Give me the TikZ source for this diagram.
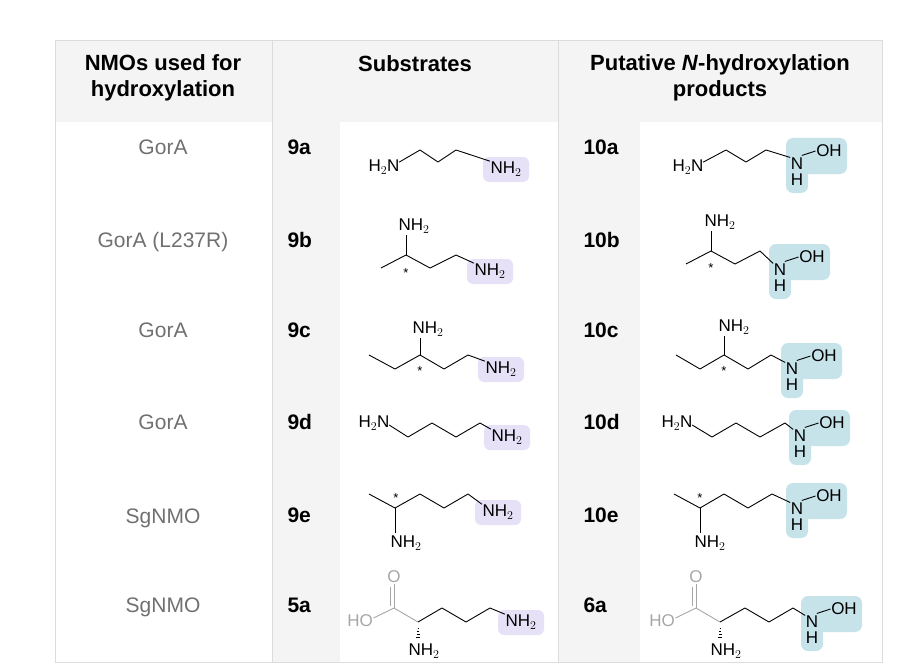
\documentclass[tikz,border=0pt]{standalone}
\usepackage{fontspec}
\setmainfont{Liberation Sans}
\definecolor{headbg}{HTML}{F4F4F4}
\definecolor{rule}{HTML}{DCDCDC}
\definecolor{nmogray}{HTML}{707070}
\definecolor{acidgray}{HTML}{A6A6A6}
\definecolor{amlilac}{HTML}{E6E1F7}
\definecolor{hoxblue}{HTML}{C6E3EA}
% purple highlighted NH2 end group
\newcommand{\amine}[3]{%
  \fill[amlilac,rounded corners=6pt] (#1-23,#2-12) rectangle (#1+23,#2+13);
  \node[atom] (#3) at (#1,#2) {NH$_2$};}
% blue highlighted N(H)-OH end group
\newcommand{\hydroxam}[3]{%
  \fill[hoxblue,rounded corners=7pt] (#1-11,#2-26) rectangle (#1+50,#2+10);
  \fill[hoxblue,rounded corners=7pt] (#1-11,#2-12) rectangle (#1+11,#2+29);
  \node[atom] (#3-n) at (#1,#2) {N};
  \node[atom] (#3-oh) at (#1+32,#2-13) {OH};
  \node[atom] (#3-h) at (#1,#2+16) {H};
  \draw[bond] (#3-n.north east) ++(-2,-2) -- (#3-oh.west);}
\begin{document}
\begin{tikzpicture}
[x=1pt,y=-1pt,
head/.style={font=\fontsize{22}{26}\selectfont\bfseries, align=center},
cmpd/.style={font=\fontsize{21}{24}\selectfont\bfseries, anchor=west},
nmo/.style={font=\fontsize{21}{24}\selectfont, text=nmogray},
atom/.style={font=\fontsize{17}{19}\selectfont, inner sep=0.5pt},
bond/.style={line width=0.9pt, line join=round},
stereo/.style={font=\fontsize{13}{13}\selectfont, inner sep=0}
]
\useasboundingbox (0,0) rectangle (902,666);
%Table
\fill[headbg] (55,40) rectangle (882,122);
\fill[headbg] (272,122) rectangle (340,662);
\fill[headbg] (558,122) rectangle (640,662);
\draw[rule] (55,40) rectangle (882,662);
\draw[rule] (272,40) -- (272,662);
\draw[rule] (558,40) -- (558,662);

%Headers
\node[head] (hnmo)  at (163,78) {NMOs used for\\hydroxylation};
\node[head] (hsub)  at (415,64) {Substrates};
\node[head] (hprod) at (720,78) {Putative \textit{N}-hydroxylation\\products};

%NMOs
\node[nmo] (e1) at (163,147) {GorA};
\node[nmo] (e2) at (163,242) {GorA (L237R)};
\node[nmo] (e3) at (163,330) {GorA};
\node[nmo] (e4) at (163,422) {GorA};
\node[nmo] (e5) at (163,518) {SgNMO};
\node[nmo] (e6) at (163,607) {SgNMO};

%Compound numbers
\foreach \s/\p/\y in {9a/10a/147, 9b/10b/240, 9c/10c/330, 9d/10d/422, 9e/10e/515, 5a/6a/605}{
  \node[cmpd] (s\s) at (284,\y) {\s};
  \node[cmpd] (p\p) at (580,\y) {\p};
}

%9a
\node[atom] (a9H) at (384,167) {H$_2$N};
\amine{506}{169}{a9N}
\draw[bond] (a9H.north east) ++(-1,3) -- (420,150) -- (438,162) -- (456,150) -- (a9N.north west);
%10a
\node[atom] (a10H) at (688,167) {H$_2$N};
\hydroxam{797}{164}{a10}
\draw[bond] (a10H.north east) ++(-1,3) -- (726,150) -- (746,162) -- (766,150) -- (a10-n.north west);

%9b
\amine{490}{271}{b9N}
\node[atom] (b9T) at (414,226) {NH$_2$};
\node[stereo] (b9s) at (406,273) {*};
\draw[bond] (381,268) -- (406,255) -- (430,268) -- (456,255) -- (b9N.north west);
\draw[bond] (406,255) -- (406,235);
%10b
\node[atom] (b10T) at (720,222) {NH$_2$};
\node[stereo] (b10s) at (711,268) {*};
\hydroxam{780}{270}{b10}
\draw[bond] (686,264) -- (711,251) -- (735,264) -- (760,251) -- (b10-n.north west);
\draw[bond] (711,251) -- (711,231);

%9c
\amine{501}{369}{c9N}
\node[atom] (c9T) at (428,329) {NH$_2$};
\node[stereo] (c9s) at (420,371) {*};
\draw[bond] (369,355) -- (395,369) -- (420,355) -- (444,369) -- (468,355) -- (c9N.north west);
\draw[bond] (420,355) -- (420,338);
%10c
\node[atom] (c10T) at (734,327) {NH$_2$};
\node[stereo] (c10s) at (724,371) {*};
\hydroxam{792}{369}{c10}
\draw[bond] (676,355) -- (700,369) -- (724,355) -- (748,369) -- (771,355) -- (c10-n.north west);
\draw[bond] (724,355) -- (724,336);

%9d
\node[atom] (d9H) at (374,423) {H$_2$N};
\amine{507}{437}{d9N}
\draw[bond] (d9H.east) ++(-1,2) -- (408,437) -- (432,423) -- (456,437) -- (480,423) -- (d9N.north west);
%10d
\node[atom] (d10H) at (677,423) {H$_2$N};
\hydroxam{800}{436}{d10}
\draw[bond] (d10H.east) ++(-1,2) -- (712,437) -- (736,423) -- (760,437) -- (785,423) -- (d10-n.north west);

%9e
\amine{498}{512}{e9N}
\node[atom] (e9B) at (406,543) {NH$_2$};
\node[stereo] (e9s) at (396,498) {*};
\draw[bond] (369,494) -- (395,508) -- (420,494) -- (444,508) -- (468,494) -- (e9N.north west);
\draw[bond] (395,508) -- (395,533);
%10e
\node[atom] (e10B) at (710,543) {NH$_2$};
\node[stereo] (e10s) at (700,498) {*};
\hydroxam{797}{509}{e10}
\draw[bond] (674,494) -- (700,508) -- (724,494) -- (748,508) -- (772,494) -- (e10-n.north west);
\draw[bond] (700,508) -- (700,533);

%5a
\node[atom, text=acidgray] (f5HO) at (360,621) {HO};
\node[atom, text=acidgray] (f5O) at (394,577) {O};
\node[atom] (f5B) at (424,651) {NH$_2$};
\amine{521}{622}{f5N}
\draw[bond, acidgray] (f5HO.east) ++(0,-3) -- (394,608);
\draw[bond, acidgray] (394,608) -- (f5O.south);
\draw[bond, acidgray] (390,606) -- (390,587);
\draw[bond, acidgray] (394,608) -- (418,622);
\draw[bond] (418,622) -- (442,608) -- (466,622) -- (490,608) -- (f5N.north west);
\foreach \i in {0,...,4} \draw[line width=1pt] (418-0.5*\i,625+3*\i) -- (418+0.5*\i,625+3*\i);
%6a
\node[atom, text=acidgray] (f6HO) at (662,621) {HO};
\node[atom, text=acidgray] (f6O) at (696,577) {O};
\node[atom] (f6B) at (726,651) {NH$_2$};
\hydroxam{812}{622}{f6}
\draw[bond, acidgray] (f6HO.east) ++(0,-3) -- (696,608);
\draw[bond, acidgray] (696,608) -- (f6O.south);
\draw[bond, acidgray] (692,606) -- (692,587);
\draw[bond, acidgray] (696,608) -- (720,622);
\draw[bond] (720,622) -- (745,608) -- (769,622) -- (793,608) -- (f6-n.north west);
\foreach \i in {0,...,4} \draw[line width=1pt] (720-0.5*\i,625+3*\i) -- (720+0.5*\i,625+3*\i);
\end{tikzpicture}
\end{document}
